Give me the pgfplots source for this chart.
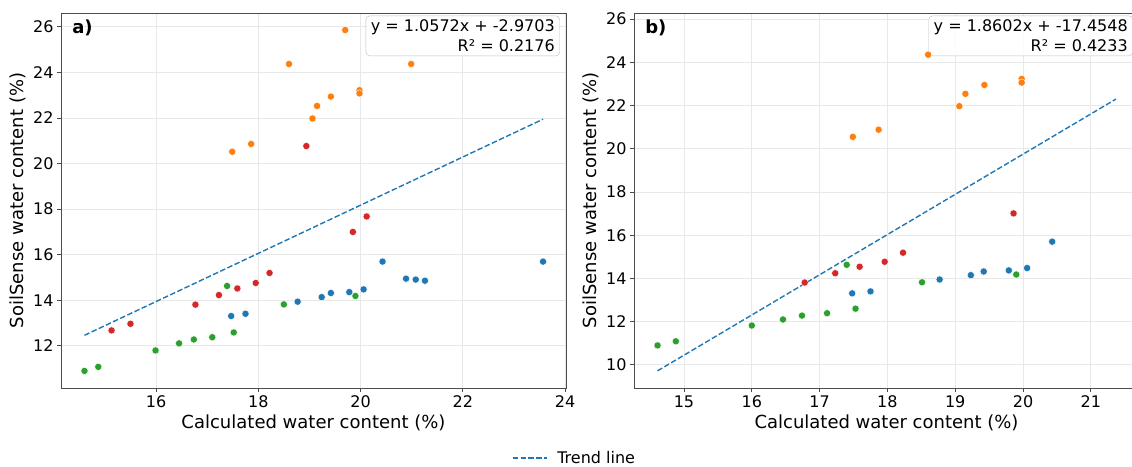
\documentclass[border=0pt]{standalone}
\usepackage{fontspec}
\setmainfont{DejaVu Sans}
\usepackage{pgfplots}
\pgfplotsset{compat=1.18}
\definecolor{tabblue}{HTML}{1F77B4}
\definecolor{taborange}{HTML}{FF7F0E}
\definecolor{tabgreen}{HTML}{2CA02C}
\definecolor{tabred}{HTML}{D62728}

\pgfplotsset{
  soil/.style={
    scale only axis, width=505pt, height=375pt,
    axis line style={black!70, line width=0.9pt},
    tick align=outside, tick pos=left, major tick length=4pt,
    tick style={black!70, line width=0.8pt},
    grid=major, grid style={black!9, line width=0.8pt},
    ticklabel style={font=\fontsize{16}{19}\selectfont},
    /pgf/number format/assume math mode=true,
    label style={font=\fontsize{18}{21}\selectfont},
    xlabel={Calculated water content (\%)},
    ylabel={SoilSense water content (\%)},
  },
  pts/.style={only marks, mark=*, mark size=3.6pt, color=#1,
    mark options={draw=white, line width=0.4pt, fill=#1}},
  trend/.style={tabblue, line width=1.4pt, dash pattern=on 5.5pt off 2.4pt},
}
\tikzset{
  eqbox/.style={anchor=north east, draw=black!25, rounded corners=4pt,
    fill=white, fill opacity=0.8, text opacity=1, align=right,
    inner xsep=5pt, inner ysep=4pt, font=\fontsize{16}{20}\selectfont},
  tag/.style={anchor=west, inner sep=0pt, font=\fontsize{18}{21}\selectfont\bfseries},
}

\begin{document}
\begin{tikzpicture}
\path[use as bounding box] (0,0) rectangle (1132pt,466pt);

% panel a
\begin{axis}[soil, at={(61pt,78pt)}, anchor=south west,
  xmin=14.141, xmax=24.019, ymin=10.152, ymax=26.608,
  xtick={16,18,20,22,24}, ytick={12,14,16,18,20,22,24,26},
  legend style={at={(1.0168,-0.1867)}, anchor=center, draw=none, fill=none,
    column sep=8pt, font=\fontsize{16}{19}\selectfont},
  legend image code/.code={\draw[#1] (0pt,0pt) -- (34pt,0pt);},
]
\addplot[pts=tabblue, forget plot] coordinates {
  (17.47,13.31) (17.75,13.41) (18.77,13.94) (19.24,14.14) (19.42,14.32)
  (19.78,14.36) (20.06,14.48) (20.43,15.70) (20.89,14.95) (21.08,14.91)
  (21.26,14.86) (23.57,15.70) };
\addplot[pts=taborange, forget plot] coordinates {
  (19.70,25.86) (18.60,24.37) (20.99,24.37) (19.98,23.22) (19.98,23.08)
  (19.42,22.94) (19.15,22.53) (19.06,21.98) (17.86,20.86) (17.49,20.52) };
\addplot[pts=tabgreen, forget plot] coordinates {
  (14.60,10.90) (14.87,11.08) (15.99,11.80) (16.45,12.11) (16.74,12.28)
  (17.10,12.38) (17.52,12.59) (17.39,14.63) (18.50,13.82) (19.90,14.19) };
\addplot[pts=tabred, forget plot] coordinates {
  (18.94,20.77) (20.12,17.68) (19.85,17.00) (18.22,15.20) (17.95,14.76)
  (17.59,14.52) (17.23,14.23) (16.77,13.81) (15.50,12.97) (15.13,12.68) };
\addplot[trend] coordinates {(14.60,12.465) (23.57,21.948)};
\addlegendentry{Trend line}
\node[eqbox] at (rel axis cs:0.988,0.993) {y = 1.0572x + -2.9703\\R² = 0.2176};
\node[tag] at (rel axis cs:0.022,0.96) {a)};
\end{axis}

% panel b
\begin{axis}[soil, at={(634pt,78pt)}, anchor=south west,
  xmin=14.263, xmax=21.71, ymin=8.93, ymax=26.28,
  xtick={15,16,17,18,19,20,21}, ytick={10,12,14,16,18,20,22,24,26},
]
\addplot[pts=tabblue] coordinates {
  (17.48,13.31) (17.75,13.40) (18.77,13.95) (19.23,14.15) (19.42,14.32)
  (19.79,14.37) (20.06,14.48) (20.43,15.70) };
\addplot[pts=taborange] coordinates {
  (17.49,20.55) (17.87,20.88) (18.60,24.35) (19.06,21.97) (19.15,22.54)
  (19.43,22.95) (19.98,23.23) (19.98,23.06) };
\addplot[pts=tabgreen] coordinates {
  (14.61,10.90) (14.88,11.09) (16.00,11.82) (16.46,12.10) (16.74,12.28)
  (17.11,12.39) (17.53,12.60) (17.40,14.63) (18.51,13.82) (19.90,14.18) };
\addplot[pts=tabred] coordinates {
  (19.86,17.01) (18.23,15.19) (17.96,14.77) (17.59,14.54) (17.23,14.24)
  (16.78,13.81) };
\addplot[trend] coordinates {(14.61,9.723) (21.37,22.298)};
\node[eqbox] at (rel axis cs:0.988,0.993) {y = 1.8602x + -17.4548\\R² = 0.4233};
\node[tag] at (rel axis cs:0.022,0.96) {b)};
\end{axis}
\end{tikzpicture}
\end{document}
